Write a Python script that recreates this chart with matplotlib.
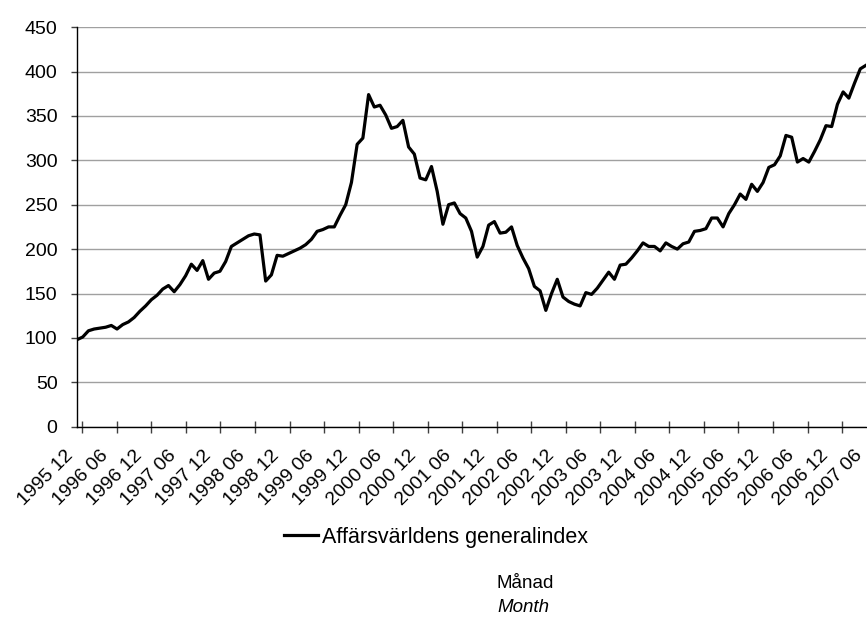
import matplotlib
matplotlib.use('Agg')
import matplotlib.pyplot as plt
from matplotlib.lines import Line2D
from matplotlib.transforms import ScaledTranslation
import numpy as np

plt.rcParams['font.family'] = ['Liberation Sans', 'DejaVu Sans']

# Monthly index values, 1995-12 .. 2007-06
values = [
    98, 101, 108, 110, 111, 112, 114, 110, 115, 118, 123, 130,
    136, 143, 148, 155, 159, 152, 160, 170, 183, 176, 187, 166,
    173, 175, 186, 203, 207, 211, 215, 217, 216, 164, 171, 193,
    192, 195, 198, 201, 205, 211, 220, 222, 225, 225, 238, 250,
    275, 318, 325, 374, 360, 362, 351, 336, 338, 345, 315, 307,
    280, 278, 293, 265, 228, 250, 252, 240, 235, 220, 191, 203,
    227, 231, 218, 219, 225, 204, 190, 178, 158, 153, 131, 150,
    166, 146, 141, 138, 136, 151, 149, 156, 165, 174, 166, 182,
    183, 190, 198, 207, 203, 203, 198, 207, 203, 200, 206, 208,
    220, 221, 223, 235, 235, 225, 240, 250, 262, 256, 273, 265,
    275, 292, 295, 305, 328, 326, 298, 302, 298, 310, 323, 339,
    338, 363, 377, 370, 387, 403, 407,
]

tick_labels = [
    "1995 12", "1996 06", "1996 12", "1997 06", "1997 12", "1998 06",
    "1998 12", "1999 06", "1999 12", "2000 06", "2000 12", "2001 06",
    "2001 12", "2002 06", "2002 12", "2003 06", "2003 12", "2004 06",
    "2004 12", "2005 06", "2005 12", "2006 06", "2006 12", "2007 06",
]

series_name = "Affärsvärldens generalindex"
xlabel_sv = "Månad"
xlabel_en = "Month"

x = np.arange(len(values))

fig = plt.figure(figsize=(8.67, 6.25), dpi=100)
ax = fig.add_axes([77 / 867, 1 - 426.7 / 625, 789 / 867, 399.6 / 625])

ax.plot(x, values, color='black', lw=2.3, solid_joinstyle='round')

ax.set_xlim(0, len(values) - 1)
ax.set_ylim(0, 450)
ax.set_yticks(np.arange(0, 451, 50))
ax.yaxis.grid(True, color='#a0a0a0', lw=1)
ax.set_axisbelow(True)

for s in ('top', 'right'):
    ax.spines[s].set_visible(False)
for s in ('left', 'bottom'):
    ax.spines[s].set_color('black')
    ax.spines[s].set_linewidth(1.0)

label_pos = np.arange(0, len(values), 6)
ax.set_xticks(label_pos)
ax.set_xticklabels(tick_labels, rotation=45, ha='right', va='center',
                   rotation_mode='anchor', fontsize=14)
ax.tick_params(axis='x', which='major', length=0, pad=19)
shift = ScaledTranslation(-6 / 100, 0, fig.dpi_scale_trans)
for lab in ax.get_xticklabels():
    lab.set_transform(lab.get_transform() + shift)
minor_pos = 0.93 + 6.04 * np.arange(23)
ax.set_xticks(minor_pos, minor=True)
ax.tick_params(axis='x', which='minor', direction='inout', length=9,
               width=1, color='#404040')
ax.tick_params(axis='y', direction='out', length=4, width=1, labelsize=14,
               pad=10, color='#404040')

handle = Line2D([0], [0], color='black', lw=2.3)
fig.legend([handle], [series_name], loc='center',
           bbox_to_anchor=(436 / 867, 1 - 537 / 625), frameon=False,
           fontsize=15.5, handlelength=1.6, handletextpad=0.2)

fig.text(497 / 867, 1 - 583 / 625, xlabel_sv, ha='left', va='center',
         fontsize=13.5)
fig.text(497 / 867, 1 - 607 / 625, xlabel_en, ha='left', va='center',
         fontsize=13.5, style='italic')

fig.savefig('out.png', dpi=100)
